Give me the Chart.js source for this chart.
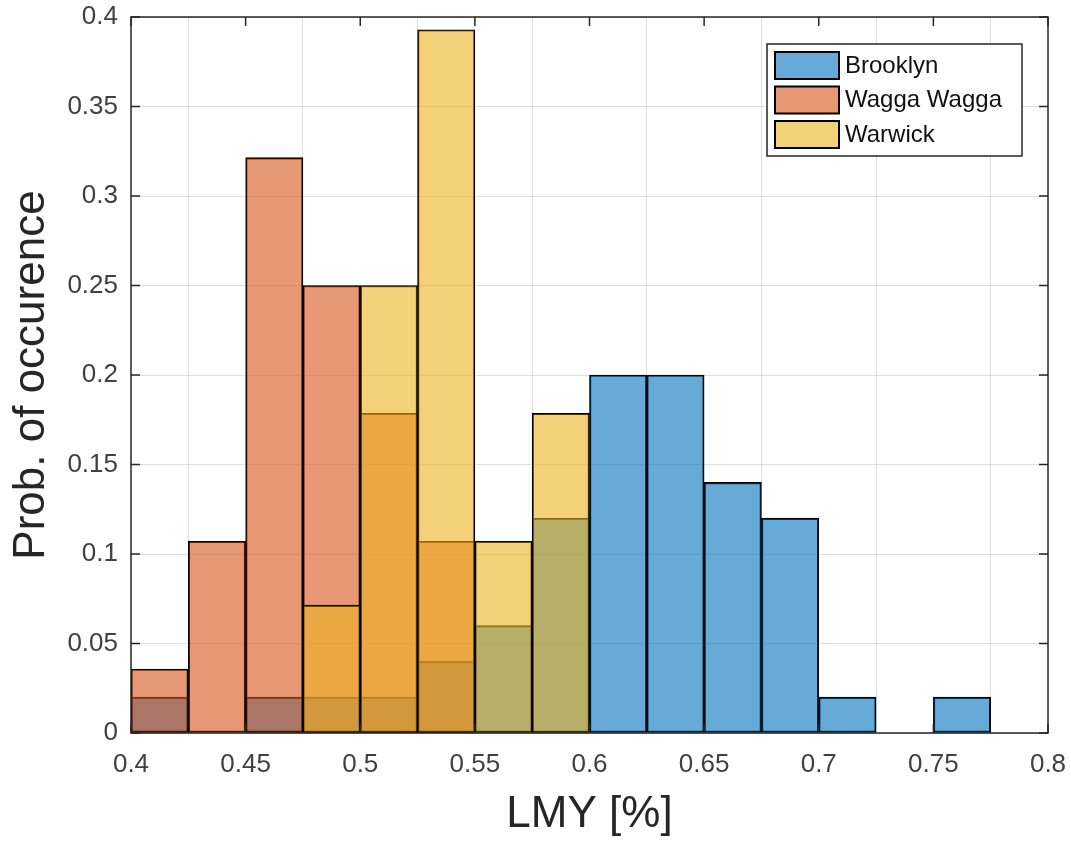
<!DOCTYPE html>
<html>
<head>
<meta charset="utf-8">
<title>LMY histogram</title>
<script src="https://cdn.jsdelivr.net/npm/chart.js@4.4.1/dist/chart.umd.min.js"></script>
<style>
  html, body { margin: 0; padding: 0; background: #fff; }
  #wrap { width: 1071px; height: 841px; }
</style>
</head>
<body>
<div id="wrap"><canvas id="myChart" width="1071" height="841"></canvas></div>
<script>
/* globals Chart:false */

// histogram bins (left edge of each bin), width 0.025
const binEdges = [0.4, 0.425, 0.45, 0.475, 0.5, 0.525, 0.55, 0.575, 0.6, 0.625, 0.65, 0.675, 0.7, 0.725, 0.75, 0.775]
const binWidth = 0.025

// probability of occurence per bin
const brooklyn = [0.02, 0, 0.02, 0.02, 0.02, 0.04, 0.06, 0.12, 0.20, 0.20, 0.14, 0.12, 0.02, 0, 0.02, 0]
const waggaWagga = [0.0357, 0.1071, 0.3214, 0.25, 0.1786, 0.1071, 0, 0, 0, 0, 0, 0, 0, 0, 0, 0]
const warwick = [0, 0, 0, 0.0714, 0.25, 0.3929, 0.1071, 0.1786, 0, 0, 0, 0, 0, 0, 0, 0]

const seriesNames = ['Brooklyn', 'Wagga Wagga', 'Warwick']
const xTitle = 'LMY [%]'
const yTitle = 'Prob. of occurence'

;(() => {
  'use strict'

  const FONT = '"Liberation Sans", Arial, Helvetica, sans-serif'
  const AXIS = '#262626'
  // matlab default colours, FaceAlpha 0.6
  const fills = ['rgba(0,114,189,0.6)', 'rgba(217,83,25,0.6)', 'rgba(237,177,32,0.6)']

  const toPoints = (vals) => vals.map((v, i) => ({ x: binEdges[i] + binWidth / 2, y: v === 0 ? null : v }))
  const fmt = (v) => String(+(+v).toFixed(3))

  // box round the axes + inward ticks, drawn over the bars like matlab
  const boxPlugin = {
    id: 'boxPlugin',
    afterDatasetsDraw(chart) {
      const { ctx, chartArea: a, scales: { x, y } } = chart
      const tl = 9
      ctx.save()
      ctx.strokeStyle = AXIS
      ctx.lineWidth = 1.5
      ctx.strokeRect(a.left, a.top, a.right - a.left, a.bottom - a.top)
      ctx.beginPath()
      x.ticks.forEach(t => {
        const px = x.getPixelForValue(t.value)
        ctx.moveTo(px, a.bottom); ctx.lineTo(px, a.bottom - tl)
        ctx.moveTo(px, a.top); ctx.lineTo(px, a.top + tl)
      })
      y.ticks.forEach(t => {
        const py = y.getPixelForValue(t.value)
        ctx.moveTo(a.left, py); ctx.lineTo(a.left + tl, py)
        ctx.moveTo(a.right, py); ctx.lineTo(a.right - tl, py)
      })
      ctx.stroke()
      ctx.restore()
    }
  }

  // matlab style legend box in the top right corner
  const legendPlugin = {
    id: 'legendPlugin',
    afterDraw(chart) {
      const { ctx, chartArea: a } = chart
      const w = 255, h = 112
      const left = a.right - 281, top = a.top + 27
      ctx.save()
      ctx.fillStyle = '#fff'
      ctx.fillRect(left, top, w, h)
      ctx.strokeStyle = AXIS
      ctx.lineWidth = 1.5
      ctx.strokeRect(left, top, w, h)
      ctx.font = '24px ' + FONT
      ctx.textBaseline = 'middle'
      chart.data.datasets.forEach((ds, i) => {
        const ry = top + 8 + i * 34.5
        ctx.fillStyle = ds.backgroundColor
        ctx.fillRect(left + 8, ry, 64, 27)
        ctx.strokeStyle = '#000'
        ctx.lineWidth = 2
        ctx.strokeRect(left + 8, ry, 64, 27)
        ctx.fillStyle = '#111'
        ctx.fillText(ds.label, left + 78, ry + 14)
      })
      ctx.restore()
    }
  }

  const ctx = document.getElementById('myChart')
  // eslint-disable-next-line no-unused-vars
  const myChart = new Chart(ctx, {
    type: 'bar',
    data: {
      datasets: [
        { label: seriesNames[0], data: toPoints(brooklyn), backgroundColor: fills[0], order: 2 },
        { label: seriesNames[1], data: toPoints(waggaWagga), backgroundColor: fills[1], order: 1 },
        { label: seriesNames[2], data: toPoints(warwick), backgroundColor: fills[2], order: 0 }
      ]
    },
    options: {
      responsive: false,
      animation: false,
      layout: { padding: { top: 17, right: 23, left: 0, bottom: 0 } },
      datasets: {
        bar: {
          grouped: false,
          barPercentage: 1,
          categoryPercentage: 1,
          borderColor: '#000',
          borderWidth: 1.4,
          borderSkipped: false
        }
      },
      scales: {
        x: {
          type: 'linear',
          offset: false,
          min: 0.4,
          max: 0.8,
          afterFit: (s) => { s.height = 108; s.paddingLeft = 0; s.paddingRight = 0 },
          ticks: {
            stepSize: 0.05,
            padding: 16,
            color: '#404040',
            font: { family: FONT, size: 26 },
            callback: fmt,
            maxRotation: 0
          },
          grid: { color: 'rgba(38,38,38,0.15)', lineWidth: 1, drawTicks: false },
          border: { display: false },
          title: {
            display: true,
            text: xTitle,
            color: '#262626',
            font: { family: FONT, size: 44 },
            padding: { top: 0, bottom: 0 }
          }
        },
        y: {
          min: 0,
          max: 0.4,
          afterFit: (s) => { s.width = 131; s.paddingTop = 0; s.paddingBottom = 0 },
          ticks: {
            stepSize: 0.05,
            padding: 13,
            color: '#404040',
            font: { family: FONT, size: 26 },
            callback: fmt
          },
          grid: { color: 'rgba(38,38,38,0.15)', lineWidth: 1, drawTicks: false },
          border: { display: false },
          title: {
            display: true,
            text: yTitle,
            color: '#262626',
            font: { family: FONT, size: 44 },
            padding: { top: 5, bottom: 0 }
          }
        }
      },
      plugins: {
        legend: { display: false },
        tooltip: { enabled: false }
      }
    },
    plugins: [boxPlugin, legendPlugin]
  })
})()
</script>
</body>
</html>
